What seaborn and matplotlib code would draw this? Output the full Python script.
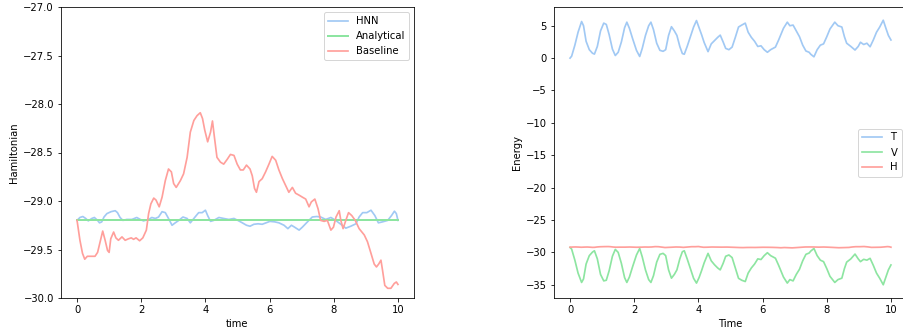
import matplotlib
matplotlib.use("Agg")
import matplotlib.pyplot as plt
import seaborn as sns

pal = sns.color_palette("pastel")
C_BLUE, C_GREEN, C_RED = pal[0], pal[2], pal[3]

# ---- Hamiltonian over time (left panel) ----
hnn_t = [0, 0.09, 0.18, 0.27, 0.35, 0.46, 0.54, 0.64, 0.70, 0.77, 0.84, 0.93, 1.06, 1.19,
         1.26, 1.34, 1.43, 1.55, 1.71, 1.86, 1.97, 2.07, 2.23, 2.33, 2.44, 2.54, 2.65, 2.75,
         2.85, 2.96, 3.06, 3.17, 3.30, 3.43, 3.53, 3.64, 3.79, 3.90, 4.0, 4.07, 4.16, 4.26,
         4.42, 4.57, 4.73, 4.89, 5.01, 5.15, 5.28, 5.39, 5.51, 5.64, 5.77, 5.89, 6.01, 6.16,
         6.29, 6.45, 6.57, 6.68, 6.78, 6.92, 7.02, 7.18, 7.33, 7.47, 7.59, 7.75, 7.91, 8.06,
         8.22, 8.375, 8.53, 8.69, 8.79, 8.90, 9.03, 9.16, 9.28, 9.39, 9.52, 9.68, 9.80, 9.89,
         9.95, 10.0]
hnn_h = [-29.2, -29.17, -29.16, -29.18, -29.205, -29.18, -29.17, -29.20, -29.225, -29.215,
         -29.165, -29.13, -29.11, -29.10, -29.12, -29.17, -29.20, -29.19, -29.19, -29.17,
         -29.19, -29.205, -29.19, -29.17, -29.18, -29.165, -29.11, -29.12, -29.18, -29.25,
         -29.225, -29.20, -29.165, -29.18, -29.225, -29.18, -29.12, -29.12, -29.095, -29.15,
         -29.21, -29.20, -29.17, -29.18, -29.19, -29.18, -29.20, -29.225, -29.25, -29.26,
         -29.24, -29.235, -29.24, -29.225, -29.21, -29.215, -29.225, -29.25, -29.285, -29.25,
         -29.27, -29.30, -29.27, -29.215, -29.165, -29.16, -29.165, -29.19, -29.17, -29.20,
         -29.24, -29.28, -29.26, -29.235, -29.165, -29.12, -29.12, -29.095, -29.15, -29.225,
         -29.215, -29.20, -29.15, -29.105, -29.13, -29.2]

analytical_t = [0.0, 10.0]
analytical_h = [-29.2, -29.2]

base_t = [0, 0.09, 0.17, 0.24, 0.32, 0.46, 0.56, 0.64, 0.72, 0.80, 0.875, 0.95, 1.0, 1.05,
          1.14, 1.21, 1.29, 1.40, 1.5, 1.6, 1.69, 1.76, 1.84, 1.95, 2.05, 2.16, 2.23, 2.30,
          2.39, 2.46, 2.56, 2.65, 2.75, 2.85, 2.94, 3.01, 3.09, 3.22, 3.32, 3.43, 3.53, 3.64,
          3.74, 3.84, 3.91, 3.98, 4.07, 4.16, 4.22, 4.28, 4.36, 4.47, 4.57, 4.68, 4.78, 4.89,
          4.99, 5.09, 5.18, 5.28, 5.39, 5.46, 5.53, 5.59, 5.67, 5.77, 5.875, 5.98, 6.08, 6.19,
          6.29, 6.40, 6.5, 6.60, 6.71, 6.81, 6.92, 7.02, 7.125, 7.23, 7.30, 7.41, 7.51, 7.59,
          7.70, 7.80, 7.91, 7.99, 8.07, 8.17, 8.22, 8.29, 8.375, 8.46, 8.56, 8.67, 8.79, 8.95,
          9.05, 9.16, 9.26, 9.33, 9.40, 9.47, 9.52, 9.59, 9.68, 9.78, 9.885, 9.95, 10.0]
base_h = [-29.2, -29.405, -29.54, -29.60, -29.57, -29.57, -29.57, -29.53, -29.42, -29.31,
          -29.405, -29.51, -29.53, -29.39, -29.32, -29.38, -29.405, -29.37, -29.405, -29.39,
          -29.38, -29.395, -29.38, -29.41, -29.38, -29.30, -29.13, -29.03, -28.97, -28.99,
          -29.06, -28.96, -28.79, -28.67, -28.70, -28.82, -28.86, -28.79, -28.72, -28.55,
          -28.29, -28.17, -28.12, -28.09, -28.15, -28.27, -28.39, -28.29, -28.175, -28.34,
          -28.55, -28.60, -28.62, -28.57, -28.52, -28.53, -28.62, -28.68, -28.68, -28.63,
          -28.67, -28.74, -28.87, -28.91, -28.80, -28.77, -28.70, -28.62, -28.54, -28.58,
          -28.68, -28.77, -28.84, -28.91, -28.86, -28.92, -28.94, -28.96, -28.98, -29.06,
          -29.01, -28.98, -29.08, -29.20, -29.21, -29.20, -29.30, -29.27, -29.165, -29.10,
          -29.20, -29.285, -29.20, -29.12, -29.15, -29.20, -29.285, -29.35, -29.42, -29.54,
          -29.65, -29.68, -29.65, -29.61, -29.715, -29.87, -29.90, -29.90, -29.85, -29.835,
          -29.86]

# ---- Energy components over time (right panel) ----
kin_t = [0, 0.05, 0.15, 0.25, 0.36, 0.42, 0.5, 0.6, 0.7, 0.76, 0.85, 0.95, 1.05, 1.13, 1.22,
         1.32, 1.41, 1.5, 1.6, 1.7, 1.77, 1.85, 1.95, 2.07, 2.17, 2.25, 2.35, 2.45, 2.52, 2.6,
         2.7, 2.8, 2.9, 2.98, 3.07, 3.16, 3.25, 3.33, 3.42, 3.5, 3.56, 3.65, 3.75, 3.85, 3.94,
         4.02, 4.1, 4.18, 4.3, 4.4, 4.5, 4.6, 4.68, 4.77, 4.85, 4.95, 5.05, 5.15, 5.25, 5.35,
         5.46, 5.55, 5.65, 5.75, 5.85, 5.95, 6.05, 6.15, 6.25, 6.4, 6.5, 6.65, 6.77, 6.85,
         6.95, 7.05, 7.15, 7.25, 7.35, 7.45, 7.5, 7.6, 7.7, 7.8, 7.9, 8.0, 8.1, 8.25, 8.35,
         8.47, 8.55, 8.62, 8.75, 8.88, 8.98, 9.05, 9.15, 9.25, 9.35, 9.45, 9.55, 9.65, 9.76,
         9.85, 9.92, 10.0]
kin_T = [0.0, 0.3, 2.0, 4.0, 5.65, 5.0, 2.6, 1.3, 0.75, 0.62, 1.8, 4.2, 5.4, 5.2, 3.6, 1.4,
         0.4, 0.9, 2.5, 4.7, 5.55, 4.6, 3.0, 1.2, 0.25, 1.5, 3.5, 5.0, 5.55, 4.4, 2.3, 1.2,
         1.05, 1.3, 3.5, 4.85, 4.2, 3.5, 1.8, 0.7, 0.6, 1.8, 3.3, 4.8, 5.8, 4.7, 3.6, 2.4,
         1.0, 2.2, 2.7, 3.2, 3.55, 2.5, 1.5, 1.3, 1.7, 3.2, 4.8, 5.1, 5.4, 4.0, 3.2, 2.6,
         1.8, 1.9, 1.3, 0.9, 1.3, 1.7, 2.8, 4.6, 5.55, 5.0, 5.1, 4.2, 3.3, 2.0, 1.1, 0.9,
         0.6, 0.2, 1.3, 2.0, 2.2, 3.3, 4.5, 5.55, 5.0, 4.8, 3.3, 2.3, 1.8, 1.25, 1.8, 2.45,
         2.1, 2.3, 1.75, 2.8, 4.0, 4.8, 5.85, 4.5, 3.5, 2.8]
pot_V = [-29.23, -29.5, -31.2, -33.2, -34.64, -34.1, -31.8, -30.5, -29.95, -29.75, -31.0,
         -33.4, -34.4, -34.3, -32.8, -30.6, -29.54, -30.0, -31.7, -33.9, -34.64, -33.8,
         -32.2, -30.4, -29.4, -30.7, -32.7, -34.2, -34.64, -33.6, -31.5, -30.3, -30.15,
         -30.5, -32.7, -33.98, -33.4, -32.7, -31.0, -29.9, -29.75, -31.0, -32.5, -34.0,
         -34.74, -33.9, -32.8, -31.6, -30.15, -31.3, -31.9, -32.4, -32.7, -31.7, -30.6,
         -30.4, -30.8, -32.4, -34.0, -34.3, -34.5, -33.2, -32.4, -31.8, -31.0, -31.1,
         -30.5, -30.05, -30.5, -30.9, -32.0, -33.8, -34.74, -34.2, -34.4, -33.4, -32.6,
         -31.3, -30.3, -30.1, -29.8, -29.4, -30.5, -31.2, -31.43, -32.5, -33.7, -34.64,
         -34.2, -33.98, -32.5, -31.5, -31.0, -30.26, -31.0, -31.43, -31.07, -31.2, -30.92,
         -32.0, -33.2, -34.0, -35.0, -33.7, -32.7, -31.94]

# Total energy tracked by the HNN is the same Hamiltonian series as above
tot_t = hnn_t
tot_H = hnn_h

DPI = 72
fig = plt.figure(figsize=(903 / DPI, 334 / DPI), dpi=DPI)
ax1 = fig.add_axes([61 / 903, 36 / 334, 353 / 903, 291 / 334])
ax2 = fig.add_axes([554 / 903, 36 / 334, 353 / 903, 291 / 334])

LW = 1.7
sns.lineplot(x=hnn_t, y=hnn_h, ax=ax1, color=C_BLUE, label="HNN", linewidth=LW)
sns.lineplot(x=analytical_t, y=analytical_h, ax=ax1, color=C_GREEN, label="Analytical",
             linewidth=LW + 0.3)
sns.lineplot(x=base_t, y=base_h, ax=ax1, color=C_RED, label="Baseline", linewidth=LW)
ax1.set_ylim(-30.0, -27.0)
ax1.set_xlabel("time")
ax1.set_ylabel("Hamiltonian")
ax1.legend(loc="upper right")

sns.lineplot(x=kin_t, y=kin_T, ax=ax2, color=C_BLUE, label="T", linewidth=LW)
sns.lineplot(x=kin_t, y=pot_V, ax=ax2, color=C_GREEN, label="V", linewidth=LW)
sns.lineplot(x=tot_t, y=tot_H, ax=ax2, color=C_RED, label="H", linewidth=LW)
ax2.set_xlabel("Time")
ax2.set_ylabel("Energy")
ax2.legend(loc="center right")

for ax in (ax1, ax2):
    ax.set_xticks([0, 2, 4, 6, 8, 10])

fig.savefig("out.png", dpi=DPI)
